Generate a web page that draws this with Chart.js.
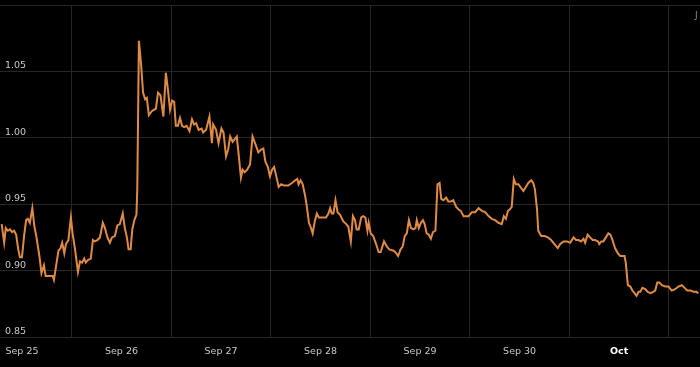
<!DOCTYPE html>
<html>
<head>
<meta charset="utf-8">
<script src="https://cdn.jsdelivr.net/npm/chart.js@4"></script>
<style>
  html, body { margin: 0; padding: 0; background: #000; }
  #wrap { width: 700px; height: 367px; }
</style>
</head>
<body>
<div id="wrap"><canvas id="grafico"></canvas></div>
<script>
// Hours since Sep 25 00:00
const hours = [
  7.1, 7.7, 8.1, 8.6, 9.1, 9.6, 10.1, 10.6, 11.1, 11.5, 12.0,
  12.5, 13.0, 13.4, 13.9, 14.5, 15.0, 15.5, 16.2, 16.7, 17.3, 17.7,
  18.8, 19.4, 19.7, 20.2, 20.8, 21.3, 21.7, 22.2, 22.6, 23.2,
  23.8, 24.2, 24.8, 25.5, 26.0, 26.5, 27.0, 27.4, 27.9, 28.6,
  29.1, 29.5, 30.2, 30.8, 31.5, 32.0, 32.6, 33.2, 33.7, 34.4,
  35.0, 35.6, 36.3, 36.8, 37.3, 37.7, 38.2, 38.6, 39.1, 39.6,
  39.8, 40.2, 40.7, 41.2, 41.7, 42.1, 42.6, 43.3, 43.8, 44.3,
  44.8, 45.4, 46.1, 46.7, 47.2, 47.7, 48.2, 48.7, 49.1, 49.6,
  50.1, 50.6, 51.1, 51.7, 52.4, 53.0, 53.5, 54.0, 54.6, 55.3,
  55.7, 56.4, 57.2, 57.8, 58.1, 58.8, 59.4, 60.1, 60.6, 61.2,
  61.7, 62.2, 62.8, 63.8, 64.3, 64.8, 65.2, 65.7, 66.3, 67.0,
  67.6, 68.2, 69.0, 69.6, 70.2, 70.7, 71.3, 71.8, 72.3, 72.8,
  73.4, 73.9, 74.5, 75.2, 76.2, 77.1, 77.9, 78.4, 78.7, 79.2,
  79.7, 80.3, 80.7, 81.2, 81.6, 82.1, 82.6, 83.1, 83.6, 84.5,
  85.3, 85.9, 86.3, 86.7, 87.1, 87.6, 88.1, 88.7, 89.5, 90.2,
  90.7, 91.3, 91.8, 92.3, 92.7, 93.2, 93.8, 94.3, 94.8, 95.3,
  95.6, 96.1, 96.7, 97.4, 98.0, 98.5, 99.3, 100.0, 100.6, 101.6,
  102.0, 102.7, 103.3, 103.8, 104.3, 104.8, 105.3, 105.8, 106.4, 106.9,
  107.2, 107.7, 108.2, 108.7, 109.1, 109.6, 110.1, 110.6, 111.1, 111.7,
  112.2, 112.7, 113.1, 113.6, 114.3, 114.8, 115.4, 116.0, 116.7, 117.3, 117.8, 118.5,
  119.3, 119.7, 120.5,
  121.3, 122.1, 122.9, 123.7, 124.5, 125.3, 126.1, 126.9, 127.7,
  128.2, 128.7, 129.2, 129.6, 130.1, 130.6, 131.1, 131.7, 132.4, 132.9,
  133.5, 134.1, 134.8, 135.3, 135.7, 136.2, 136.5, 137.2, 138.0, 138.8,
  139.6, 140.4, 141.2, 141.8, 142.6, 143.4, 144.2, 145.0, 145.6, 146.2,
  146.8, 147.4, 147.8, 148.4, 149.0, 149.6, 150.2, 150.9, 151.2, 151.7,
  152.2, 152.8, 153.4, 153.9, 154.4, 155.0, 155.7, 156.3, 157.3, 157.6,
  158.1, 158.7, 159.2, 159.7, 160.2, 160.7, 161.1, 161.6, 162.3, 162.9,
  163.6, 164.2, 164.7, 165.2, 165.7, 166.3, 167.1, 167.9, 168.7, 169.5,
  170.3, 171.1, 171.8, 172.4, 173.2, 174.0, 174.6, 175.1
];

const prices = [
  0.935, 0.921, 0.932, 0.930, 0.931, 0.929, 0.930, 0.927, 0.916, 0.910, 0.910,
  0.926, 0.938, 0.939, 0.936, 0.947, 0.933, 0.925, 0.911, 0.898, 0.904, 0.896,
  0.896, 0.896, 0.893, 0.903, 0.915, 0.917, 0.921, 0.913, 0.920, 0.923,
  0.940, 0.928, 0.916, 0.899, 0.907, 0.906, 0.909, 0.906, 0.908, 0.909,
  0.923, 0.922, 0.923, 0.925, 0.936, 0.932, 0.925, 0.921, 0.925, 0.926,
  0.934, 0.935, 0.943, 0.932, 0.925, 0.916, 0.916, 0.931, 0.938, 0.942,
  0.961, 1.073, 1.056, 1.034, 1.029, 1.030, 1.017, 1.020, 1.021, 1.022,
  1.034, 1.032, 1.016, 1.049, 1.036, 1.021, 1.028, 1.027, 1.009, 1.009,
  1.015, 1.009, 1.008, 1.009, 1.005, 1.014, 1.010, 1.011, 1.006, 1.007,
  1.004, 1.006, 1.016, 0.996, 1.010, 1.006, 0.996, 1.007, 1.004, 0.986,
  0.991, 1.001, 0.997, 1.001, 0.986, 0.970, 0.976, 0.974, 0.976, 0.980,
  1.001, 0.996, 0.989, 0.991, 0.992, 0.982, 0.978, 0.971, 0.976, 0.978,
  0.970, 0.963, 0.965, 0.964, 0.964, 0.966, 0.968, 0.969, 0.965, 0.968,
  0.965, 0.956, 0.948, 0.936, 0.933, 0.928, 0.937, 0.943, 0.940, 0.940,
  0.940, 0.943, 0.947, 0.943, 0.943, 0.953, 0.944, 0.942, 0.937, 0.935,
  0.933, 0.922, 0.941, 0.938, 0.931, 0.931, 0.940, 0.941, 0.940, 0.930,
  0.936, 0.928, 0.926, 0.920, 0.914, 0.914, 0.922, 0.918, 0.916, 0.915,
  0.914, 0.911, 0.916, 0.918, 0.926, 0.928, 0.938, 0.932, 0.931, 0.932,
  0.938, 0.932, 0.936, 0.938, 0.935, 0.928, 0.927, 0.924, 0.929, 0.930,
  0.965, 0.966, 0.954, 0.953, 0.955, 0.952, 0.952, 0.953, 0.948, 0.946, 0.945, 0.941,
  0.941, 0.941, 0.944,
  0.944, 0.947, 0.945, 0.944, 0.941, 0.939, 0.938, 0.936, 0.935,
  0.941, 0.939, 0.945, 0.946, 0.948, 0.969, 0.965, 0.965, 0.962, 0.960,
  0.963, 0.966, 0.968, 0.966, 0.961, 0.946, 0.930, 0.926, 0.926, 0.925,
  0.923, 0.920, 0.917, 0.920, 0.922, 0.922, 0.921, 0.925, 0.923, 0.923,
  0.922, 0.924, 0.921, 0.927, 0.925, 0.923, 0.923, 0.922, 0.920, 0.922,
  0.922, 0.925, 0.928, 0.927, 0.923, 0.917, 0.913, 0.911, 0.911, 0.906,
  0.889, 0.888, 0.885, 0.883, 0.881, 0.884, 0.884, 0.887, 0.886, 0.884,
  0.883, 0.884, 0.885, 0.891, 0.891, 0.889, 0.888, 0.888, 0.885, 0.886,
  0.888, 0.889, 0.887, 0.885, 0.885, 0.884, 0.884, 0.883
];

// Day labels sit at midday, grid lines at midnight
const dayLabels = ['Sep 25', 'Sep 26', 'Sep 27', 'Sep 28', 'Sep 29', 'Sep 30', 'Oct'];
const labelHours = [12, 36, 60, 84, 108, 132, 156];
const gridHours = [24, 48, 72, 96, 120, 144, 168];
const yTicks = [0.85, 0.90, 0.95, 1.00, 1.05, 1.10];

const xMin = 6.7;
const xMax = 175.5;
const corLinha = '#e08b45';
const corGrade = '#262626';
const corTexto = '#c8c8c8';

// Remove the extra padding Chart.js adds around scales
function semPadding(s) {
    s.paddingLeft = 0;
    s.paddingRight = 0;
    s.paddingTop = 0;
    s.paddingBottom = 0;
}

// Small clipped text in the top right corner
const cantoTexto = {
    id: 'cantoTexto',
    afterDraw(chart) {
        const ctx = chart.ctx;
        ctx.save();
        ctx.fillStyle = '#8a8a8a';
        ctx.font = '9px "DejaVu Sans"';
        ctx.textAlign = 'left';
        ctx.fillText('J', 695, 18);
        ctx.restore();
    }
};

const ctx = document.getElementById('grafico').getContext('2d');
new Chart(ctx, {
    type: 'line',
    data: {
        datasets: [{
            data: hours.map((h, i) => ({ x: h, y: prices[i] })),
            borderColor: corLinha,
            borderWidth: 2,
            pointRadius: 0,
            tension: 0,
            fill: false
        }]
    },
    options: {
        responsive: true,
        maintainAspectRatio: false,
        animation: false,
        layout: { padding: { top: 5, left: 0, right: 0, bottom: 0 } },
        plugins: {
            legend: { display: false },
            tooltip: { enabled: false }
        },
        scales: {
            x: {
                type: 'linear',
                min: xMin,
                max: xMax,
                afterBuildTicks: s => { s.ticks = gridHours.map(v => ({ value: v })); },
                afterFit: s => { s.height = 0; semPadding(s); },
                grid: { color: corGrade, lineWidth: 1, drawTicks: false },
                border: { display: false },
                ticks: { display: false }
            },
            xDias: {
                type: 'linear',
                position: 'bottom',
                min: xMin,
                max: xMax,
                afterBuildTicks: s => { s.ticks = labelHours.map(v => ({ value: v })); },
                afterFit: s => { s.height = 30; semPadding(s); },
                grid: { display: false, drawTicks: false },
                border: { display: false },
                ticks: {
                    autoSkip: false,
                    maxRotation: 0,
                    padding: 9,
                    callback: (v, i) => dayLabels[i],
                    color: c => (c.index === 6) ? '#ffffff' : corTexto,
                    font: c => (c.index === 6)
                        ? { family: 'DejaVu Sans', size: 9.5, weight: 'bold' }
                        : { family: 'DejaVu Sans', size: 9.5 }
                }
            },
            y: {
                type: 'linear',
                min: 0.85,
                max: 1.10,
                afterBuildTicks: s => { s.ticks = yTicks.map(v => ({ value: v })); },
                afterFit: s => { s.width = 0; semPadding(s); },
                grid: { color: corGrade, lineWidth: 1, drawTicks: false },
                border: { display: false },
                ticks: {
                    mirror: true,
                    padding: 5,
                    labelOffset: -5.5,
                    color: corTexto,
                    font: { family: 'DejaVu Sans', size: 9.5 },
                    callback: v => (v >= 1.1 ? '' : v.toFixed(2))
                }
            }
        }
    },
    plugins: [cantoTexto]
});
</script>
</body>
</html>
